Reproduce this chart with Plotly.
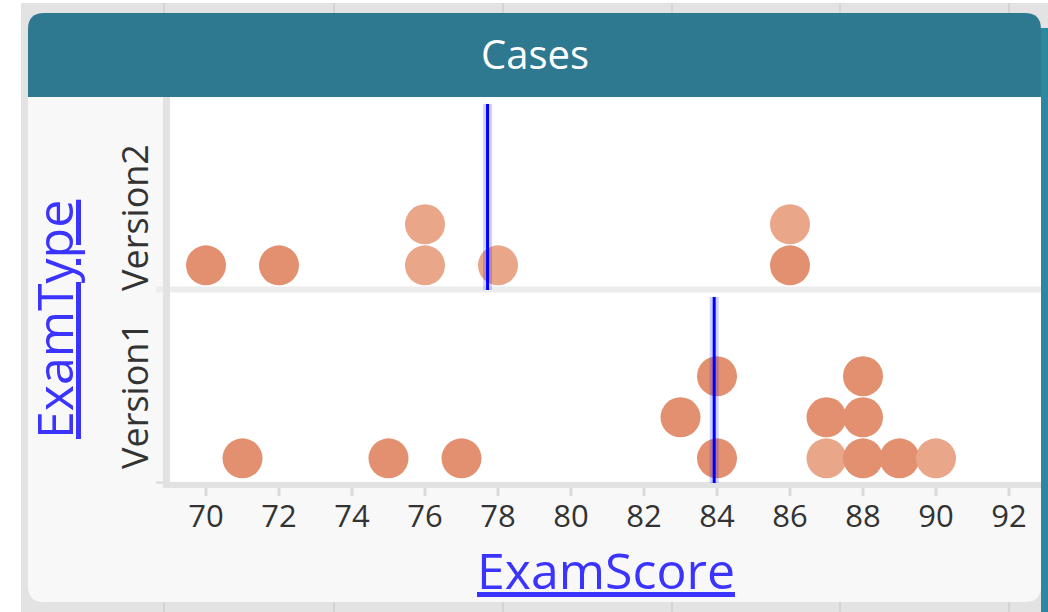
import numpy as np
import plotly.graph_objects as go

# figure size (px)
W, H = 1048, 612

# data (rows = stack level of each dot)
v1_scores = [71, 75, 77, 83, 84, 84, 87, 87, 88, 88, 88, 89, 90]
v1_rows = [0, 0, 0, 1, 0, 2, 0, 1, 0, 1, 2, 0, 0]
v1_light = [0, 0, 0, 0, 0, 0, 1, 0, 0, 0, 0, 0, 1]
v2_scores = [70, 72, 76, 76, 78, 86, 86]
v2_rows = [0, 0, 0, 1, 0, 0, 1]
v2_light = [0, 0, 1, 1, 1, 0, 1]
tick_vals = [70, 72, 74, 76, 78, 80, 82, 84, 86, 88, 90, 92]
categories = ["Version1", "Version2"]

DARK = "#e2906f"
LIGHT = "#e9a688"
TEAL = "#2e7890"
BLUE_TXT = "#3b34ff"
FONT = "Open Sans"


def fx(x):
    return x / W


def fy(y):
    return 1 - y / H


def pt(x, y):
    return f"{fx(x):.5f},{fy(y):.5f}"


def rect(x0, y0, x1, y1, color):
    return dict(type="rect", xref="paper", yref="paper", layer="below",
                x0=fx(x0), x1=fx(x1), y0=fy(y1), y1=fy(y0),
                fillcolor=color, line=dict(width=0))


fig = go.Figure()

for scores, rows, light, xa, ya in [(v1_scores, v1_rows, v1_light, "x", "y"),
                                    (v2_scores, v2_rows, v2_light, "x2", "y2")]:
    fig.add_trace(go.Scatter(
        x=scores, y=rows, xaxis=xa, yaxis=ya, mode="markers",
        marker=dict(size=40, color=[LIGHT if l else DARK for l in light],
                    line=dict(width=0)),
        hoverinfo="skip", showlegend=False))

shapes = []
# page background with table grid behind
shapes.append(rect(21, 3, W, H, "#e3e3e3"))
for gx in [164, 334, 503, 672, 840, 1009]:
    shapes.append(dict(type="line", xref="paper", yref="paper", layer="below",
                       x0=fx(gx), x1=fx(gx), y0=fy(3), y1=fy(H),
                       line=dict(color="#d4d4d4", width=2)))

# card body
L, T, R, B = 28, 13, 1041, 602
r = 16
card = (f"M {pt(L + r, T)} L {pt(R - r, T)} Q {pt(R, T)} {pt(R, T + r)} "
        f"L {pt(R, B - r)} Q {pt(R, B)} {pt(R - r, B)} L {pt(L + r, B)} "
        f"Q {pt(L, B)} {pt(L, B - r)} L {pt(L, T + r)} Q {pt(L, T)} {pt(L + r, T)} Z")
shapes.append(dict(type="path", xref="paper", yref="paper", layer="below",
                   path=card, fillcolor="#f8f8f8", line=dict(width=0)))
header = (f"M {pt(L + r, T)} L {pt(R - r, T)} Q {pt(R, T)} {pt(R, T + r)} "
          f"L {pt(R, 97)} L {pt(L, 97)} L {pt(L, T + r)} Q {pt(L, T)} {pt(L + r, T)} Z")
shapes.append(dict(type="path", xref="paper", yref="paper", layer="below",
                   path=header, fillcolor=TEAL, line=dict(width=0)))
shapes.append(rect(1041, 28, W, H, "#2b88a0"))

# plot area and axis bars
shapes.append(rect(170, 97, 1041, 483, "#ffffff"))
shapes.append(rect(156, 286.5, 1041, 292.5, "#ececec"))
shapes.append(rect(163, 97, 170, 488, "#e2e2e2"))
shapes.append(rect(156, 481, 170, 484, "#e2e2e2"))
shapes.append(rect(163, 482, 1041, 488, "#e2e2e2"))
for tv in tick_vals:
    shapes.append(dict(type="line", xref="x", yref="paper", layer="below",
                       x0=tv, x1=tv, y0=fy(488), y1=fy(496),
                       line=dict(color="#dadada", width=3)))

# mean lines
for scores, ya in [(v1_scores, "y"), (v2_scores, "y2")]:
    m = float(np.mean(scores))
    for w, c in [(9, "rgba(0,0,255,0.18)"), (3, "#0000ff")]:
        shapes.append(dict(type="line", xref="x", yref=f"{ya} domain", layer="above",
                           x0=m, x1=m, y0=0, y1=0.964, line=dict(color=c, width=w)))

annotations = [
    dict(text="Cases", x=fx(535), y=fy(53), font=dict(size=40, color="white", family=FONT)),
    dict(text="<u>ExamScore</u>", x=fx(606), y=fy(570),
         font=dict(size=50, color=BLUE_TXT, family=FONT)),
    dict(text="<u>ExamType</u>", x=fx(54), y=fy(320), textangle=-90,
         font=dict(size=50, color=BLUE_TXT, family=FONT)),
    dict(text=categories[1], x=fx(134), y=fy(218), textangle=-90,
         font=dict(size=36, color="#333333", family=FONT)),
    dict(text=categories[0], x=fx(134), y=fy(396), textangle=-90,
         font=dict(size=36, color="#333333", family=FONT)),
]
for a in annotations:
    a.update(xref="paper", yref="paper", xanchor="center", yanchor="middle",
             showarrow=False)

x_rng = [70 - 36 / 36.5, 70 + 835 / 36.5]
y_rng = [-0.6, 4.1]

fig.update_layout(
    width=W, height=H,
    margin=dict(l=0, r=0, t=0, b=0, pad=0),
    paper_bgcolor="white", plot_bgcolor="rgba(0,0,0,0)",
    shapes=shapes, annotations=annotations,
    xaxis=dict(domain=[fx(170), fx(1041)], range=x_rng, anchor="y",
               tickmode="array", tickvals=tick_vals,
               ticks="outside", ticklen=6, tickwidth=1, tickcolor="rgba(0,0,0,0)",
               tickfont=dict(size=31, color="#333333", family=FONT),
               showgrid=False, zeroline=False, showline=False, automargin=False),
    xaxis2=dict(domain=[fx(170), fx(1041)], range=x_rng, anchor="y2", matches="x",
                visible=False),
    yaxis=dict(domain=[fy(483), fy(290)], range=y_rng, visible=False),
    yaxis2=dict(domain=[fy(290), fy(97)], range=y_rng, visible=False),
)

fig.write_html("out.html", config={"displayModeBar": False},
               post_script="document.body.style.margin='0';document.body.style.padding='0';")
